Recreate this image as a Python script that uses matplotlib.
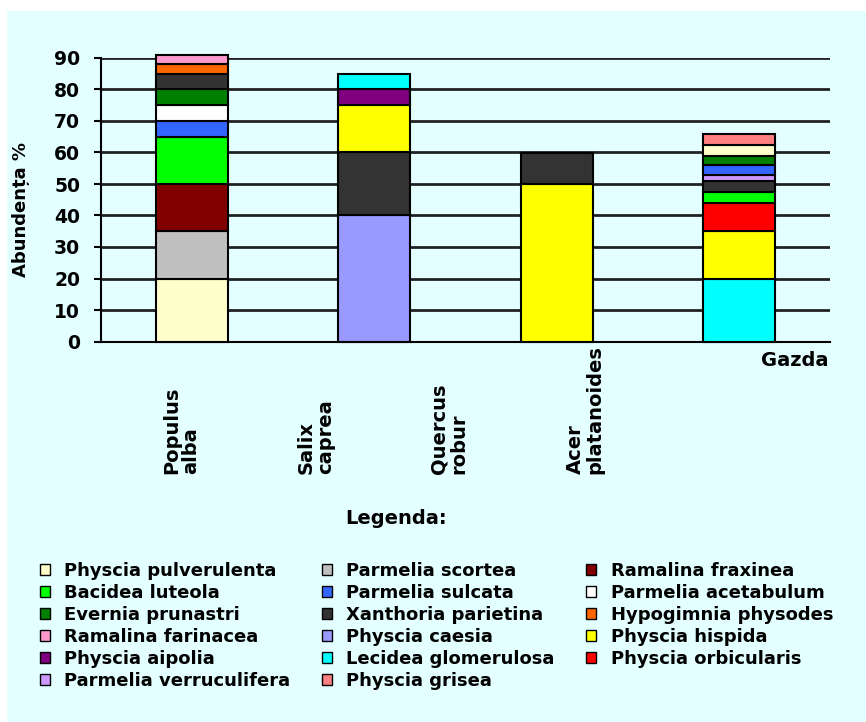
import matplotlib
matplotlib.use("Agg")
import matplotlib.pyplot as plt
from matplotlib.patches import Patch, Rectangle

# host trees and the lichen cover measured on each (bottom to top of the stack)
trees = ["Populus\nalba", "Salix\ncaprea", "Quercus\nrobur", "Acer\nplatanoides"]

populus_species = ["Physcia pulverulenta", "Parmelia scortea", "Ramalina fraxinea",
                   "Bacidea luteola", "Parmelia sulcata", "Parmelia acetabulum",
                   "Evernia prunastri", "Xanthoria parietina", "Hypogimnia physodes",
                   "Ramalina farinacea"]
populus_values = [20, 15, 15, 15, 5, 5, 5, 5, 3, 3]

salix_species = ["Physcia caesia", "Xanthoria parietina", "Physcia hispida",
                 "Physcia aipolia", "Lecidea glomerulosa"]
salix_values = [40, 20, 15, 5, 5]

quercus_species = ["Physcia hispida", "Xanthoria parietina"]
quercus_values = [50, 10]

acer_species = ["Lecidea glomerulosa", "Physcia hispida", "Physcia orbicularis",
                "Bacidea luteola", "Xanthoria parietina", "Parmelia verruculifera",
                "Parmelia sulcata", "Evernia prunastri", "Physcia pulverulenta",
                "Physcia grisea"]
acer_values = [20, 15, 9, 3.5, 3.5, 2, 3, 3, 3.5, 3.5]

# legend order, read row by row
legend_species = ["Physcia pulverulenta", "Parmelia scortea", "Ramalina fraxinea",
                  "Bacidea luteola", "Parmelia sulcata", "Parmelia acetabulum",
                  "Evernia prunastri", "Xanthoria parietina", "Hypogimnia physodes",
                  "Ramalina farinacea", "Physcia caesia", "Physcia hispida",
                  "Physcia aipolia", "Lecidea glomerulosa", "Physcia orbicularis",
                  "Parmelia verruculifera", "Physcia grisea"]
legend_colors = ["#FFFFCC", "#C0C0C0", "#800000",
                 "#00FF00", "#3366FF", "#FFFFFF",
                 "#008000", "#333333", "#FF6600",
                 "#FF99CC", "#9999FF", "#FFFF00",
                 "#800080", "#00FFFF", "#FF0000",
                 "#CC99FF", "#FF8080"]
colors = dict(zip(legend_species, legend_colors))

stacks = [(populus_species, populus_values), (salix_species, salix_values),
          (quercus_species, quercus_values), (acer_species, acer_values)]

bg = "#E3FFFF"
plt.rcParams["font.family"] = "DejaVu Sans"
plt.rcParams["font.weight"] = "bold"

W, H = 866, 722
fig = plt.figure(figsize=(W / 100, H / 100), dpi=100, facecolor="white")
fig.patches.append(Rectangle((7 / W, 0), 1, 1 - 11 / H, transform=fig.transFigure,
                             facecolor=bg, edgecolor="none", zorder=-10))

ax = fig.add_axes([101 / W, 1 - 341.5 / H, 729 / W, 283.5 / H])
ax.set_facecolor(bg)

for i, (names, vals) in enumerate(stacks):
    bottom = 0
    for name, v in zip(names, vals):
        ax.bar(i, v, bottom=bottom, width=0.395, color=colors[name],
               edgecolor="black", linewidth=1.5, zorder=3, clip_on=False)
        bottom += v

ax.set_xlim(-0.5, 3.5)
ax.set_ylim(0, 90)
ax.set_yticks(range(0, 91, 10))
ax.yaxis.grid(True, color="#222222", linewidth=2)
ax.set_axisbelow(True)
for s in ["top", "right"]:
    ax.spines[s].set_visible(False)
ax.spines["left"].set_linewidth(1.5)
ax.spines["bottom"].set_linewidth(1.5)
ax.set_xticks([])
ax.tick_params(axis="y", labelsize=13.5, length=5, width=1.5, pad=10)
for t in ax.get_yticklabels():
    t.set_fontweight("bold")

ax.set_ylabel("Abundența %", fontsize=13, fontweight="bold")
ax.yaxis.set_label_coords(-0.097, 0.464)

# tree names under the axis
label_x = [181, 316, 449, 585]
for x, name in zip(label_x, trees):
    fig.text(x / W, 1 - 474 / H, name, rotation=90, ha="center", va="bottom",
             multialignment="left", fontsize=14, fontweight="bold", linespacing=1.0)

fig.text(795 / W, 1 - 361 / H, "Gazda", ha="center", va="center",
         fontsize=14, fontweight="bold")
fig.text(396 / W, 1 - 519 / H, "Legenda:", ha="center", va="center",
         fontsize=14, fontweight="bold")

# column-major order for matplotlib's legend
order = [0, 3, 6, 9, 12, 15, 1, 4, 7, 10, 13, 16, 2, 5, 8, 11, 14]
handles = [Patch(facecolor=legend_colors[k], edgecolor="black", linewidth=1)
           for k in order]
labels = [legend_species[k] for k in order]
leg = fig.legend(handles, labels, ncol=3, loc="upper left",
                 bbox_to_anchor=(40 / W, 1 - 562 / H), frameon=False,
                 prop={"size": 13, "weight": "bold"},
                 handlelength=0.55, handleheight=0.55, handletextpad=0.8,
                 labelspacing=0.22, columnspacing=1.75, borderpad=0, borderaxespad=0)

fig.savefig("out.png", dpi=100, facecolor=fig.get_facecolor())
